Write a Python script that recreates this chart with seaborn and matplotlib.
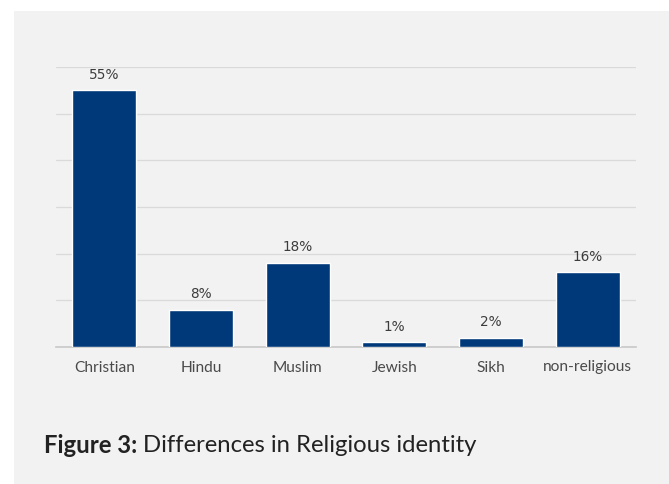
import matplotlib
matplotlib.use("Agg")
import matplotlib.pyplot as plt
import seaborn as sns
import pandas as pd
from matplotlib.patches import Rectangle
from matplotlib.ticker import MultipleLocator, FixedLocator, NullFormatter

categories = ["Christian", "Hindu", "Muslim", "Jewish", "Sikh", "non-religious"]
values = [55, 8, 18, 1, 2, 16]
value_labels = ["55%", "8%", "18%", "1%", "2%", "16%"]

df = pd.DataFrame({"religion": categories, "share": values})

sns.set_style("white")
plt.rcParams["font.family"] = ["Lato", "DejaVu Sans"]

W, H = 669, 485
fig = plt.figure(figsize=(W / 100, H / 100), dpi=100)
fig.patch.set_facecolor("white")
fig.patches.append(Rectangle((14 / W, 0), 1 - 14 / W, 1 - 12 / H,
                             transform=fig.transFigure, facecolor="#f2f2f2",
                             edgecolor="none", zorder=-10))

ax = fig.add_axes([56 / W, 137 / H, 580 / W, 280 / H])
ax.set_facecolor("#f2f2f2")
ax.patch.set_alpha(0)

sns.barplot(data=df, x="religion", y="share", color="#00397a", width=0.66,
            saturation=1, ax=ax, zorder=3)

ax.set_ylim(0, 60)
ax.set_xlim(-0.5, len(categories) - 0.5)
ax.yaxis.set_major_locator(MultipleLocator(10))
ax.grid(axis="y", color="#dadada", linewidth=0.9, zorder=0)
ax.set_axisbelow(True)
ax.set_yticklabels([])
ax.tick_params(axis="y", length=0)

for s in ["top", "right", "left"]:
    ax.spines[s].set_visible(False)
ax.spines["bottom"].set_color("#c8c8c8")
ax.spines["bottom"].set_linewidth(1.2)

ax.xaxis.set_minor_locator(FixedLocator([i - 0.5 for i in range(len(categories) + 1)]))
ax.xaxis.set_minor_formatter(NullFormatter())
ax.tick_params(axis="x", which="minor", length=5, width=1.2, color="#c8c8c8", direction="out")
ax.tick_params(axis="x", which="major", length=0, pad=9, labelsize=11.2, labelcolor="#4a4a4a")

ax.set_xlabel("")
ax.set_ylabel("")

ax.bar_label(ax.containers[0], labels=value_labels, padding=7, fontsize=9.8,
             color="#3c3c3c", family=["DejaVu Sans"])

cy = 1 - 446 / H
t1 = fig.text(44 / W, cy, "Figure 3:", fontsize=17.2, fontweight="bold",
              color="#222222", va="center", ha="left")
fig.canvas.draw()
bb = t1.get_window_extent(renderer=fig.canvas.get_renderer())
fig.text((bb.x1 + 6) / W, cy, "Differences in Religious identity", fontsize=17.2,
         color="#222222", va="center", ha="left")

fig.savefig("out.png", dpi=100, facecolor="white")
